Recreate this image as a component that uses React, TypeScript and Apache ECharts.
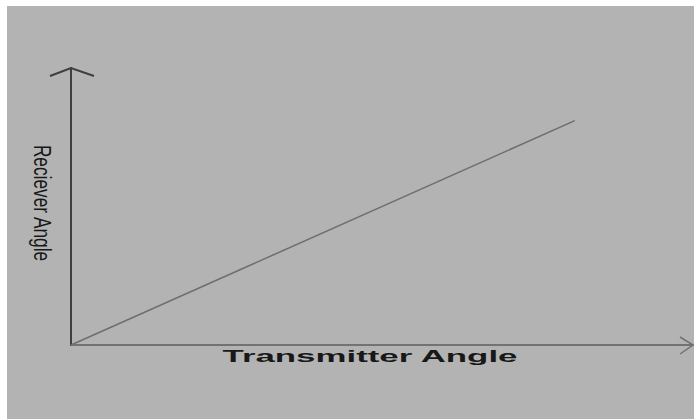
import React, { useEffect, useRef } from "react";
import * as echarts from "echarts";

// Receiver angle follows the transmitter angle one-to-one
const transmitterAngle = [0, 81];
const receiverAngle = [0, 81];

const xTitle = "Transmitter Angle";
const yTitle = "Reciever Angle";

export default function App() {
  const ref = useRef<HTMLDivElement>(null);

  useEffect(() => {
    document.body.style.margin = "0";
    if (!ref.current) return;
    const chart = echarts.init(ref.current, null, { renderer: "svg" });

    const axisBase = {
      type: "value" as const,
      min: 0,
      max: 100,
      axisTick: { show: false },
      axisLabel: { show: false },
      splitLine: { show: false },
    };

    chart.setOption({
      animation: false,
      backgroundColor: "#ffffff",
      grid: { left: 71, top: 68, right: 1, bottom: 74 },
      xAxis: {
        ...axisBase,
        axisLine: { show: true, lineStyle: { color: "#5e5e5e", width: 1.5 } },
      },
      yAxis: {
        ...axisBase,
        axisLine: { show: true, lineStyle: { color: "#3e3e3e", width: 2 } },
      },
      series: [
        {
          type: "line",
          data: transmitterAngle.map((t, i) => [t, receiverAngle[i]]),
          showSymbol: false,
          lineStyle: { color: "#6e6e6e", width: 1.5 },
          z: 3,
        },
      ],
      graphic: [
        {
          type: "rect",
          shape: { x: 7, y: 6, width: 700, height: 420 },
          style: { fill: "#b3b3b3" },
          z: -10,
          silent: true,
        },
        // open arrow heads on both axes
        {
          type: "polyline",
          shape: { points: [[50, 76], [71, 68], [94, 76]] },
          style: { stroke: "#3e3e3e", lineWidth: 2, fill: "none" },
          z: 5,
        },
        {
          type: "polyline",
          shape: { points: [[680, 337], [693, 345], [680, 354]] },
          style: { stroke: "#707070", lineWidth: 1.5, fill: "none" },
          z: 5,
        },
        {
          type: "text",
          x: 370,
          y: 356,
          scaleX: 2.05,
          style: {
            text: xTitle,
            font: "bold 17px 'Liberation Sans', Arial, sans-serif",
            fill: "#181818",
            align: "center",
            verticalAlign: "middle",
          },
          z: 5,
        },
        {
          type: "text",
          x: 43,
          y: 203,
          rotation: -Math.PI / 2,
          scaleX: 0.72,
          style: {
            text: yTitle,
            font: "24px 'Liberation Sans', Arial, sans-serif",
            fill: "#181818",
            align: "center",
            verticalAlign: "middle",
          },
          z: 5,
        },
      ],
    });

    return () => chart.dispose();
  }, []);

  return <div ref={ref} style={{ width: 694, height: 419 }} />;
}
